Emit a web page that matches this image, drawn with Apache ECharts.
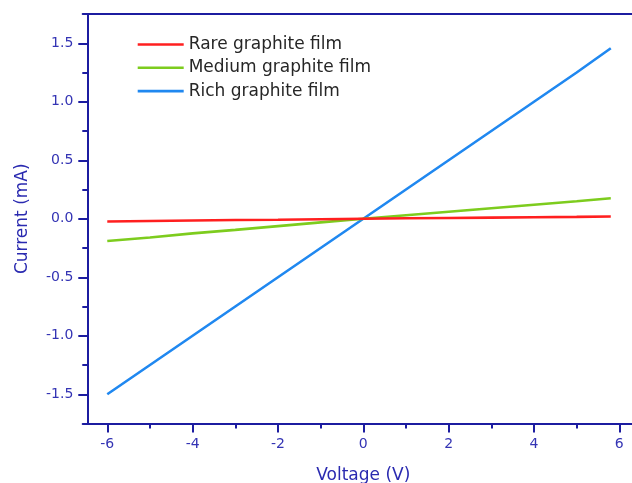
<!DOCTYPE html>
<html><head><meta charset="utf-8">
<script src="https://cdn.jsdelivr.net/npm/echarts@6/dist/echarts.min.js"></script>
<style>html,body{margin:0;padding:0;background:#fff}#c{width:632px;height:483px}</style>
</head><body><div id="c"></div>
<script>
const voltage = [-6, -5, -4, -3, -2, -1, 0, 1, 2, 3, 4, 5, 5.8];
const rare   = [-0.023, -0.019, -0.015, -0.011, -0.008, -0.004, 0, 0.004, 0.007, 0.010, 0.013, 0.016, 0.019];
const medium = [-0.19, -0.16, -0.125, -0.095, -0.063, -0.031, 0, 0.030, 0.060, 0.090, 0.120, 0.150, 0.175];
const rich   = [-1.50, -1.25, -1.00, -0.75, -0.50, -0.25, 0, 0.25, 0.50, 0.75, 1.00, 1.25, 1.457];
const seriesNames = ['Rare graphite film', 'Medium graphite film', 'Rich graphite film'];
const xMajorTicks = [-6, -4, -2, 0, 2, 4, 6];
const xMinorTicks = [-5, -3, -1, 1, 3, 5];
const yMajorTicks = [-1.5, -1, -0.5, 0, 0.5, 1, 1.5];
const yMinorTicks = [-1.25, -0.75, -0.25, 0.25, 0.75, 1.25];
const xName = 'Voltage (V)';
const yName = 'Current (mA)';

const FONT = 'DejaVu Sans';
const AXIS = '#1c1ca0';
const LABEL = '#3434b4';
const NAME = '#2a2ab0';
const colors = ['#ff1f1f', '#7dcc1e', '#2088f0'];
const XMIN = -6.576, XMAX = 6.576, YMIN = -1.75, YMAX = 1.75;

const pairs = ys => voltage.map((v, i) => [v, ys[i]]);
const chart = echarts.init(document.getElementById('c'), null, {renderer: 'canvas'});

const option = {
  animation: false,
  backgroundColor: '#fff',
  grid: {left: 82.7, right: -11.9, top: 14, bottom: 59.5, containLabel: false, outerBoundsMode: 'none'},
  legend: {
    orient: 'vertical', left: 132.7, top: 30.5,
    icon: 'rect', itemWidth: 46, itemHeight: 2.6, itemGap: 5.3,
    textStyle: {fontFamily: FONT, fontSize: 17, color: '#262626', lineHeight: 18},
    data: seriesNames
  },
  xAxis: [
    {
      type: 'value', min: XMIN, max: XMAX, position: 'bottom',
      name: xName, nameLocation: 'middle', nameGap: 44,
      nameTextStyle: {fontFamily: FONT, fontSize: 17, color: NAME},
      axisLine: {show: true, onZero: false, lineStyle: {color: AXIS, width: 2}},
      axisTick: {show: true, inside: false, length: 9, customValues: xMajorTicks, lineStyle: {color: AXIS, width: 2}},
      axisLabel: {show: true, margin: 14, customValues: xMajorTicks, fontFamily: FONT, fontSize: 14, color: LABEL, formatter: v => String(v)},
      splitLine: {show: false}
    },
    {
      type: 'value', min: XMIN, max: XMAX, position: 'bottom',
      axisLine: {show: false, onZero: false},
      axisTick: {show: true, inside: false, length: 5, customValues: xMinorTicks, lineStyle: {color: AXIS, width: 2}},
      axisLabel: {show: false},
      splitLine: {show: false}
    },
    {
      type: 'value', min: XMIN, max: XMAX, position: 'top',
      axisLine: {show: true, onZero: false, lineStyle: {color: AXIS, width: 2}},
      axisTick: {show: false}, axisLabel: {show: false}, splitLine: {show: false}
    }
  ],
  yAxis: [
    {
      type: 'value', min: YMIN, max: YMAX, position: 'left', offset: -4.6,
      name: yName, nameLocation: 'middle', nameGap: 56,
      nameTextStyle: {fontFamily: FONT, fontSize: 17, color: NAME},
      axisLine: {show: true, onZero: false, lineStyle: {color: AXIS, width: 2}},
      axisTick: {show: true, inside: false, length: 9, customValues: yMajorTicks, lineStyle: {color: AXIS, width: 2}},
      axisLabel: {show: true, margin: 14, customValues: yMajorTicks, fontFamily: FONT, fontSize: 14, color: LABEL, formatter: v => v.toFixed(1)},
      splitLine: {show: false}
    },
    {
      type: 'value', min: YMIN, max: YMAX, position: 'left', offset: -4.6,
      axisLine: {show: false, onZero: false},
      axisTick: {show: true, inside: false, length: 5, customValues: yMinorTicks, lineStyle: {color: AXIS, width: 2}},
      axisLabel: {show: false},
      splitLine: {show: false}
    }
  ],
  series: [
    {name: seriesNames[2], type: 'line', data: pairs(rich), xAxisIndex: 0, yAxisIndex: 0, showSymbol: false, symbol: 'none', lineStyle: {width: 2.6, color: colors[2]}, itemStyle: {color: colors[2]}},
    {name: seriesNames[1], type: 'line', data: pairs(medium), xAxisIndex: 0, yAxisIndex: 0, showSymbol: false, symbol: 'none', lineStyle: {width: 2.6, color: colors[1]}, itemStyle: {color: colors[1]}},
    {name: seriesNames[0], type: 'line', data: pairs(rare), xAxisIndex: 0, yAxisIndex: 0, showSymbol: false, symbol: 'none', lineStyle: {width: 2.6, color: colors[0]}, itemStyle: {color: colors[0]}}
  ]
};
chart.setOption(option);
</script>
</body></html>
